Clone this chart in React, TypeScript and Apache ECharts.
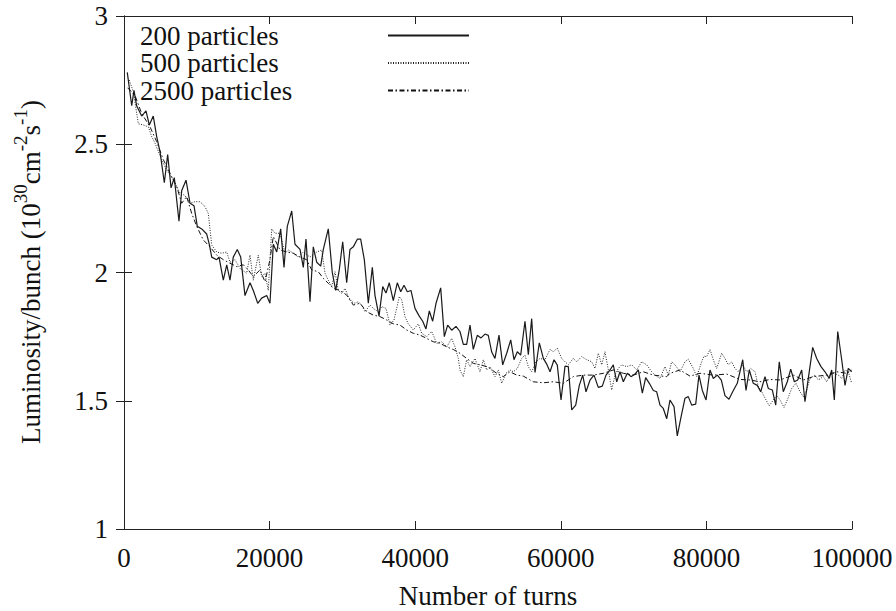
import React, { useEffect, useRef } from 'react';
import * as echarts from 'echarts';

const seriesNames = ['200 particles', '500 particles', '2500 particles'];
const xTicks = [0, 20000, 40000, 60000, 80000, 100000];
const yTicks = [1, 1.5, 2, 2.5, 3];

const turns200 = [450,1060,1370,1740,2430,3020,3480,4020,4490,4950,5540,6000,6460,6910,7550,7930,8520,9070,9620,10070,10670,11360,11720,12050,12730,13050,13640,14110,14560,15010,15560,16030,16620,17310,17760,18370,18910,19600,20050,20510,20980,21520,21980,22430,23040,23490,24180,24630,25000,25550,26000,26470,27020,27380,28060,28610,29080,29570,30040,30590,31040,31500,32050,32510,33010,33560,34110,34480,35030,35540,35990,36440,36990,37540,38010,38460,38920,39420,39970,40560,41030,41480,41940,42400,42860,43500,44000,44460,45010,45600,46150,46610,47070,47530,47980,48530,49040,49590,50040,50510,50960,51510,52020,52570,53120,53570,54030,54490,55080,55540,56000,56460,57050,57600,58060,58520,59070,59520,60030,60580,61030,61500,62050,62540,63010,63460,64010,64560,65150,65700,66210,66760,67210,67680,68130,68590,69140,69640,70190,70650,71200,71660,72160,72710,73170,73630,74080,74550,75000,75550,76000,76470,77060,77510,77980,78530,78980,79440,79950,80490,80950,81500,82050,82550,83100,83610,84240,84990,85440,85890,86440,86990,87460,88050,88500,89050,89520,90010,90560,91110,91580,92080,92540,93090,93540,94000,94600,95150,95740,96290,96880,97210,97570,98040,98590,99040,99490,99960];
const lum200 = [2.78,2.65,2.71,2.65,2.61,2.63,2.575,2.61,2.53,2.47,2.35,2.46,2.33,2.37,2.20,2.32,2.36,2.27,2.26,2.18,2.17,2.15,2.11,2.06,2.05,2.06,1.97,2.03,1.97,2.06,2.09,2.06,1.91,1.96,1.93,1.88,1.90,1.91,1.88,2.11,2.08,2.17,2.02,2.18,2.24,2.11,2.09,2.02,2.13,1.886,2.10,2.04,2.025,2.09,2.17,2.00,1.93,2.01,2.12,1.96,2.09,2.10,2.13,2.13,2.05,1.88,2.02,1.91,1.83,1.945,1.92,1.96,1.89,1.96,1.925,1.95,1.925,1.93,1.86,1.83,1.81,1.78,1.85,1.81,1.88,1.94,1.75,1.795,1.775,1.79,1.77,1.72,1.72,1.795,1.70,1.755,1.745,1.76,1.755,1.69,1.665,1.756,1.64,1.685,1.737,1.66,1.691,1.678,1.81,1.68,1.82,1.61,1.726,1.665,1.643,1.613,1.66,1.639,1.503,1.635,1.633,1.464,1.483,1.56,1.60,1.535,1.58,1.60,1.552,1.557,1.60,1.62,1.64,1.574,1.613,1.574,1.607,1.594,1.604,1.62,1.53,1.59,1.568,1.54,1.535,1.483,1.47,1.43,1.503,1.477,1.363,1.43,1.51,1.516,1.483,1.487,1.60,1.54,1.503,1.62,1.587,1.60,1.58,1.52,1.506,1.535,1.568,1.66,1.54,1.62,1.568,1.56,1.535,1.594,1.548,1.542,1.483,1.652,1.535,1.574,1.623,1.574,1.581,1.62,1.496,1.587,1.708,1.665,1.633,1.613,1.587,1.62,1.503,1.77,1.659,1.56,1.626,1.613];

const turns500 = [730,1280,1970,2650,3340,3800,4260,5170,5860,6780,7690,8380,9070,9750,10440,11130,11580,12050,12730,13420,14110,14560,15250,15930,16850,17310,17760,18450,18910,19370,19820,20290,20740,21430,22120,22570,23260,23940,24630,25550,26470,27160,27610,28060,28530,28980,29440,29900,30360,30810,31280,31730,32180,32650,33100,33790,34240,34930,35400,35990,36540,37090,37820,38150,38600,39050,39740,40430,40890,41580,42270,42950,43640,44330,45010,45470,45920,46150,46610,47070,47530,48210,48900,49360,49820,50270,50960,51420,51880,52470,53020,53480,54030,54630,55080,55540,56000,56590,57140,57830,58520,58970,59520,60120,60580,61030,61720,62180,62870,63560,64240,64700,65150,65620,66070,66530,66990,67440,67900,68370,69050,69740,70430,71110,71800,72490,72940,73630,74310,74770,75230,75690,76370,77060,77510,78200,78670,79350,79670,80040,80490,80950,81410,82100,82550,83010,83470,83930,84380,84990,85530,86080,86680,87130,87600,88190,88640,89190,89660,90110,90660,91110,91720,92310,92860,93310,93780,94230,94920,95370,96060,96520,96980,97430,98120,98590,99040,99490,99960];
const lum500 = [2.75,2.705,2.58,2.575,2.568,2.53,2.504,2.44,2.40,2.36,2.31,2.30,2.27,2.276,2.276,2.257,2.23,2.107,2.08,2.075,2.08,2.04,2.05,2.016,1.997,2.068,1.97,2.068,1.984,1.997,1.93,2.17,2.153,2.153,2.075,2.088,2.075,2.06,2.08,2.06,2.08,2.088,1.997,1.97,1.945,2.003,1.93,1.919,1.938,1.906,1.886,1.88,1.886,1.873,1.847,1.873,1.86,1.847,1.867,1.86,1.795,1.815,1.906,1.893,1.828,1.80,1.776,1.80,1.763,1.75,1.77,1.724,1.73,1.71,1.743,1.71,1.665,1.62,1.594,1.66,1.633,1.665,1.613,1.66,1.62,1.633,1.594,1.62,1.568,1.607,1.62,1.613,1.626,1.665,1.678,1.633,1.613,1.652,1.665,1.66,1.70,1.691,1.705,1.665,1.652,1.64,1.665,1.652,1.672,1.66,1.652,1.626,1.685,1.64,1.691,1.62,1.542,1.60,1.626,1.64,1.633,1.64,1.62,1.652,1.64,1.613,1.60,1.587,1.633,1.60,1.652,1.64,1.613,1.652,1.662,1.626,1.594,1.652,1.674,1.672,1.70,1.66,1.626,1.685,1.665,1.64,1.652,1.626,1.613,1.64,1.613,1.626,1.613,1.555,1.535,1.503,1.48,1.503,1.522,1.503,1.474,1.503,1.548,1.568,1.535,1.516,1.542,1.587,1.60,1.581,1.594,1.574,1.60,1.607,1.60,1.587,1.62,1.613,1.568];

const turns2500 = [500,1510,2430,3570,4490,5400,6320,7240,7930,8610,9300,9990,10890,11810,12730,13640,14560,15480,16390,17070,17760,18680,19370,20050,20510,21430,22350,23260,24180,25090,25780,26690,27380,28060,28750,29670,30590,31500,32420,33340,34240,35160,36080,36990,37910,38830,39740,40660,41580,42490,43410,44330,45230,46150,47070,47980,48900,49820,50270,51190,52100,53020,53940,54850,56220,57600,58970,60340,61720,63090,64460,65840,67210,68590,69960,71330,72710,74550,75000,76370,77750,79120,80950,82790,84620,85990,87360,88740,90110,91940,93310,94680,96520,97900,99270,99960];
const lum2500 = [2.72,2.69,2.62,2.568,2.51,2.44,2.387,2.335,2.27,2.296,2.23,2.18,2.127,2.10,2.068,2.05,2.036,2.023,2.03,2.01,1.984,2.01,1.964,2.05,2.14,2.088,2.08,2.075,2.06,2.05,2.01,2.003,1.977,1.958,1.938,1.93,1.912,1.873,1.88,1.847,1.834,1.828,1.815,1.80,1.795,1.776,1.763,1.756,1.743,1.73,1.724,1.71,1.70,1.685,1.665,1.646,1.64,1.633,1.626,1.607,1.594,1.613,1.60,1.596,1.574,1.57,1.574,1.568,1.594,1.60,1.60,1.607,1.62,1.607,1.60,1.613,1.60,1.594,1.607,1.62,1.596,1.607,1.60,1.604,1.583,1.581,1.574,1.583,1.581,1.60,1.581,1.594,1.60,1.613,1.607,1.62];

const FONT = "'Liberation Serif', 'Times New Roman', Times, serif";

export default function App() {
  const ref = useRef<HTMLDivElement>(null);
  useEffect(() => {
    const chart = echarts.init(ref.current as HTMLDivElement, null, { renderer: 'svg' });
    const zip = (t: number[], v: number[]) => t.map((x, i) => [x, v[i]]);
    const axisLine = { show: true, lineStyle: { color: '#222', width: 1 } };
    const tick = { show: true, inside: true, length: 8, lineStyle: { color: '#222', width: 1 } };
    chart.setOption({
      animation: false,
      backgroundColor: '#fff',
      grid: { left: 124, right: 44, top: 16, bottom: 82, containLabel: false, outerBoundsMode: 'none' },
      legend: {
        orient: 'vertical',
        left: 135,
        top: 17,
        align: 'right',
        itemWidth: 81,
        itemHeight: 14,
        itemGap: 0.5,
        selectedMode: false,
        itemStyle: { opacity: 0 },
        data: seriesNames,
        formatter: (name: string) => `{n|${name}}`,
        textStyle: {
          fontFamily: FONT,
          fontSize: 27,
          color: '#111',
          rich: { n: { width: 243, align: 'left', fontFamily: FONT, fontSize: 27, lineHeight: 20, color: '#111' } },
        },
      },
      xAxis: [
        {
          type: 'value', min: xTicks[0], max: xTicks[xTicks.length - 1], interval: xTicks[1] - xTicks[0],
          position: 'bottom',
          axisLine, axisTick: tick, splitLine: { show: false },
          axisLabel: { fontFamily: FONT, fontSize: 27, color: '#111', margin: 15, formatter: (v: number) => String(v) },
          name: 'Number of turns', nameLocation: 'middle', nameGap: 53,
          nameTextStyle: { fontFamily: FONT, fontSize: 27, color: '#111' },
        },
        {
          type: 'value', min: xTicks[0], max: xTicks[xTicks.length - 1], interval: xTicks[1] - xTicks[0],
          position: 'top', axisLine, axisTick: tick, axisLabel: { show: false }, splitLine: { show: false },
        },
      ],
      yAxis: [
        {
          type: 'value', min: yTicks[0], max: yTicks[yTicks.length - 1], interval: yTicks[1] - yTicks[0],
          position: 'left', axisLine, axisTick: tick, splitLine: { show: false },
          axisLabel: { fontFamily: FONT, fontSize: 27, color: '#111', margin: 16 },
        },
        {
          type: 'value', min: yTicks[0], max: yTicks[yTicks.length - 1], interval: yTicks[1] - yTicks[0],
          position: 'right', axisLine, axisTick: tick, axisLabel: { show: false }, splitLine: { show: false },
        },
      ],
      graphic: [
        {
          type: 'text', x: 31, y: 272, rotation: Math.PI / 2,
          style: {
            text: '{a|Luminosity/bunch (10}{s|30}{a|cm}{s|-2}{a|s}{s|-1}{a|)}',
            align: 'center', verticalAlign: 'middle',
            rich: {
              a: { fontFamily: FONT, fontSize: 27, lineHeight: 40, fill: '#111' },
              s: { fontFamily: FONT, fontSize: 19, lineHeight: 17, verticalAlign: 'top', fill: '#111' },
            },
          },
        },
      ],
      series: [
        {
          name: seriesNames[0], type: 'line', xAxisIndex: 0, yAxisIndex: 0, symbol: 'none',
          data: zip(turns200, lum200), lineStyle: { color: '#1a1a1a', width: 1.2, type: 'solid' },
          itemStyle: { color: '#1a1a1a' },
        },
        {
          name: seriesNames[1], type: 'line', xAxisIndex: 0, yAxisIndex: 0, symbol: 'none',
          data: zip(turns500, lum500), lineStyle: { color: '#222', width: 1, type: [1, 1.5] },
          itemStyle: { color: '#222' },
        },
        {
          name: seriesNames[2], type: 'line', xAxisIndex: 0, yAxisIndex: 0, symbol: 'none',
          data: zip(turns2500, lum2500), lineStyle: { color: '#111', width: 1, type: [5, 2.5, 1.5, 2.5] },
          itemStyle: { color: '#111' },
        },
      ],
    });
    return () => chart.dispose();
  }, []);
  return <div ref={ref} style={{ position: 'absolute', left: 0, top: 0, width: 896, height: 611, background: '#fff' }} />;
}
